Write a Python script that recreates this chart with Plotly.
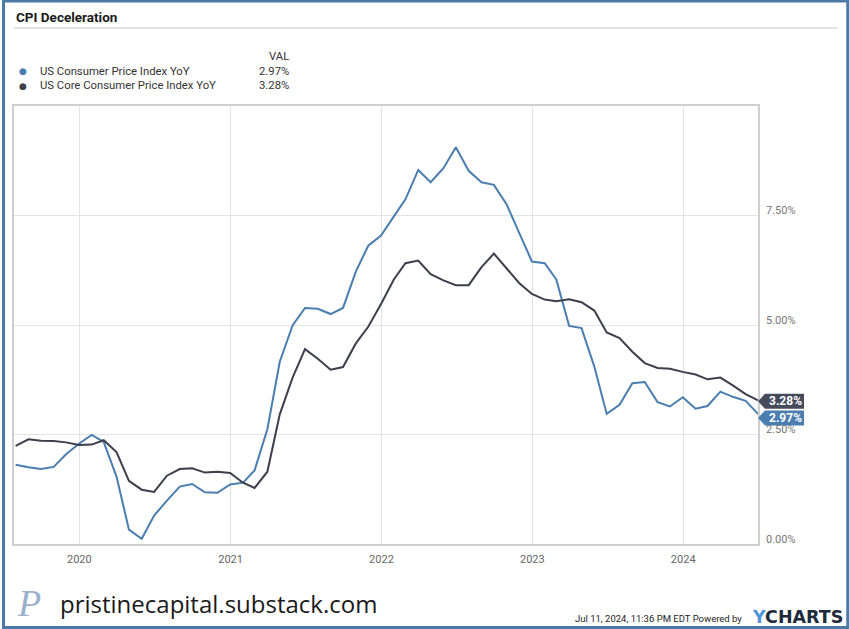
import pandas as pd
import plotly.graph_objects as go

# ---------------- data ----------------
dates = pd.date_range("2019-07-31", periods=60, freq=pd.offsets.MonthEnd())

cpi_headline = [
    1.81, 1.75, 1.71, 1.76, 2.05, 2.29,                                   # 2019 Jul-Dec
    2.49, 2.33, 1.54, 0.33, 0.12, 0.65, 0.99, 1.31, 1.37, 1.18, 1.17, 1.36,  # 2020
    1.40, 1.68, 2.62, 4.16, 4.99, 5.39, 5.37, 5.25, 5.39, 6.22, 6.81, 7.04,  # 2021
    7.48, 7.87, 8.54, 8.26, 8.58, 9.06, 8.52, 8.26, 8.20, 7.75, 7.11, 6.45,  # 2022
    6.41, 6.04, 4.98, 4.93, 4.05, 2.97, 3.18, 3.67, 3.70, 3.24, 3.14, 3.35,  # 2023
    3.09, 3.15, 3.48, 3.36, 3.27, 2.97,                                   # 2024 Jan-Jun
]
cpi_core = [
    2.24, 2.39, 2.36, 2.35, 2.32, 2.26,
    2.27, 2.37, 2.10, 1.44, 1.24, 1.19, 1.56, 1.71, 1.73, 1.63, 1.65, 1.62,
    1.40, 1.28, 1.65, 2.96, 3.80, 4.45, 4.23, 3.98, 4.04, 4.58, 4.96, 5.48,
    6.04, 6.41, 6.47, 6.16, 6.02, 5.91, 5.91, 6.32, 6.63, 6.30, 5.96, 5.71,
    5.58, 5.54, 5.59, 5.52, 5.33, 4.83, 4.70, 4.39, 4.13, 4.02, 4.00, 3.93,
    3.87, 3.76, 3.80, 3.62, 3.42, 3.28,
]
series_names = ["US Consumer Price Index YoY", "US Core Consumer Price Index YoY"]
y_tick_vals = [0, 2.5, 5, 7.5]
y_tick_text = ["0.00%", "2.50%", "5.00%", "7.50%"]
Y_MAX = 10

# ---------------- styling ----------------
BLUE = "#4a7eb0"
DARK = "#3c3f4c"
TAGDARK = "#464b5c"
FONT = "Roboto"
W, H = 850, 629
L, R, T, B = 12, 92, 106, 85
PW, PH = W - L - R, H - T - B


def px(x):
    return (x - L) / PW


def py(y):
    return (H - B - y) / PH


fig = go.Figure()
fig.add_trace(go.Scatter(x=dates, y=cpi_headline, mode="lines", name=series_names[0],
                         line=dict(color=BLUE, width=2), hoverinfo="skip"))
fig.add_trace(go.Scatter(x=dates, y=cpi_core, mode="lines", name=series_names[1],
                         line=dict(color=DARK, width=2), hoverinfo="skip"))

annotations = []
shapes = []

# title
annotations.append(dict(xref="paper", yref="paper", x=px(12), y=py(17), xanchor="left", yanchor="middle",
                        text="<b>CPI Deceleration</b>", showarrow=False,
                        font=dict(family=FONT, size=13.5, color="#1a1a1a")))
shapes.append(dict(type="line", xref="paper", yref="paper", x0=px(12), x1=px(838), y0=py(28), y1=py(28),
                   line=dict(color="#c8c8c8", width=1)))

# legend block
annotations.append(dict(xref="paper", yref="paper", x=px(290), y=py(56), xanchor="right", yanchor="middle",
                        text="VAL", showarrow=False, font=dict(family=FONT, size=11.3, color="#333")))
legend_rows = [(series_names[0], cpi_headline[-1], BLUE, 71),
               (series_names[1], cpi_core[-1], DARK, 86)]
for name, val, col, yy in legend_rows:
    annotations.append(dict(xref="paper", yref="paper", x=px(21), y=py(yy), xanchor="center", yanchor="middle",
                            text="●", showarrow=False, font=dict(family="DejaVu Sans", size=9, color=col)))
    annotations.append(dict(xref="paper", yref="paper", x=px(36), y=py(yy), xanchor="left", yanchor="middle",
                            text=name, showarrow=False, font=dict(family=FONT, size=11.3, color="#333")))
    annotations.append(dict(xref="paper", yref="paper", x=px(290), y=py(yy), xanchor="right", yanchor="middle",
                            text=f"{val:.2f}%", showarrow=False, font=dict(family=FONT, size=11.3, color="#333")))

# right y-axis labels (sit slightly above gridlines)
for v, t in zip(y_tick_vals, y_tick_text):
    annotations.append(dict(xref="paper", yref="y", x=1, y=v, xanchor="left", yanchor="middle",
                            xshift=6, yshift=5, text=t, showarrow=False,
                            font=dict(family=FONT, size=11, color="#777")))

# end-value tags (anchored at the last data point = right edge of the x range)
tags = [(cpi_core[-1], TAGDARK, -1), (cpi_headline[-1], BLUE, -4)]
for val, col, dy in tags:
    hh = 7.5
    path = f"M0,{dy} L7,{dy + hh} L46,{dy + hh} L46,{dy - hh} L7,{dy - hh} Z"
    shapes.append(dict(type="path", xref="paper", yref="y domain", xsizemode="pixel", ysizemode="pixel",
                       xanchor=1, yanchor=val / Y_MAX, path=path,
                       fillcolor=col, line=dict(width=0), layer="above"))
    annotations.append(dict(xref="x", yref="y", x=dates[-1], y=val, xanchor="center", yanchor="middle",
                            xshift=27, yshift=dy, text=f"<b>{val:.2f}%</b>", showarrow=False,
                            font=dict(family=FONT, size=12, color="white")))

# footer
annotations.append(dict(xref="paper", yref="paper", x=px(13), y=py(603), xanchor="left", yanchor="middle",
                        text="<i>P</i>", showarrow=False,
                        font=dict(family="Liberation Serif", size=38, color="#9bb0cc")))
annotations.append(dict(xref="paper", yref="paper", x=px(56), y=py(603), xanchor="left", yanchor="middle",
                        text="pristinecapital.substack.com", showarrow=False,
                        font=dict(family="Open Sans", size=24, color="#1a1a1a")))
annotations.append(dict(xref="paper", yref="paper", x=px(744), y=py(618), xanchor="right", yanchor="middle",
                        text="Jul 11, 2024, 11:36 PM EDT Powered by", showarrow=False,
                        font=dict(family=FONT, size=9.5, color="#222")))
annotations.append(dict(xref="paper", yref="paper", x=px(845), y=py(617), xanchor="right", yanchor="middle",
                        text="<b><span style='color:#4f93d8'>Y</span>CHARTS</b>", showarrow=False,
                        font=dict(family="DejaVu Sans", size=17.5, color="#1e2b3c")))

# outer frame
shapes.append(dict(type="rect", xref="paper", yref="paper", x0=px(1.5), x1=px(848), y0=py(1), y1=py(627.5),
                   line=dict(color="#4a7aa8", width=3), layer="above"))

fig.update_layout(
    width=W, height=H,
    margin=dict(l=L, r=R, t=T, b=B),
    paper_bgcolor="white", plot_bgcolor="white",
    showlegend=False,
    annotations=annotations,
    shapes=shapes,
    xaxis=dict(
        range=["2019-07-27", dates[-1]],
        tick0="2020-01-01", dtick="M12", tickformat="%Y",
        showgrid=True, gridcolor="#e3e3e3", gridwidth=1,
        showline=True, linecolor="#cfcfcf", linewidth=1.5, mirror=True,
        ticks="", tickfont=dict(family=FONT, size=11, color="#666"),
        ticklabelstandoff=4,
        zeroline=False,
    ),
    yaxis=dict(
        range=[0, Y_MAX], side="right",
        tickvals=y_tick_vals, showticklabels=False,
        showgrid=True, gridcolor="#e3e3e3", gridwidth=1,
        showline=True, linecolor="#cfcfcf", linewidth=1.5, mirror=True,
        zeroline=False, ticks="",
    ),
)

fig.write_html("out.html", config={"displayModeBar": False},
               post_script="document.body.style.margin='0px';document.body.style.padding='0px';")
